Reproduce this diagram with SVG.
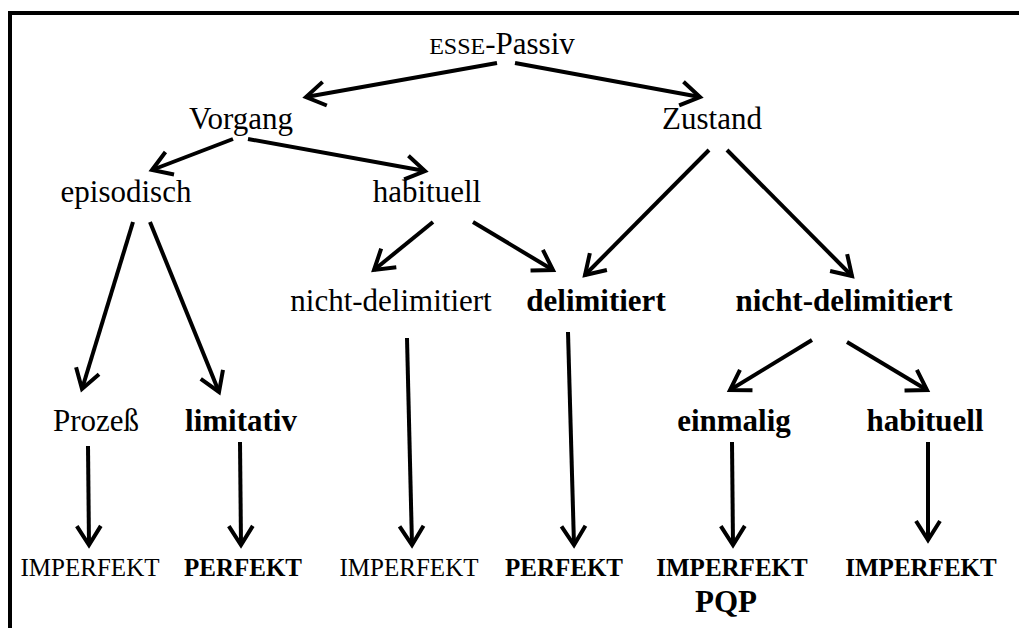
<svg xmlns="http://www.w3.org/2000/svg" width="1019" height="628" viewBox="0 0 1019 628">
<style>
text{font-family:"Liberation Serif","Times New Roman",serif;fill:#000;text-anchor:middle}
.n{font-size:31px}
.b{font-size:31px;font-weight:bold}
.s{font-size:25px}
.sb{font-size:25px;font-weight:bold}
.sc{font-size:24px}
.e{stroke:#000;stroke-width:4;fill:none;marker-end:url(#ah)}
</style>
<defs>
<marker id="ah" markerUnits="userSpaceOnUse" markerWidth="40" markerHeight="40" viewBox="-30 -20 40 40" refX="0" refY="0" orient="auto">
<path d="M-19,-12 L0,0 L-19,12" fill="none" stroke="#000" stroke-width="4" stroke-linejoin="miter"/>
</marker>
</defs>
<rect width="1019" height="628" fill="#fff"/>
<path d="M10,628 V13 H1019" fill="none" stroke="#000" stroke-width="4"/>
<g id="connectors">
<line class="e" x1="497" y1="63" x2="306" y2="97"/>
<line class="e" x1="515" y1="63" x2="700" y2="97"/>
<line class="e" x1="233" y1="139" x2="152" y2="170"/>
<line class="e" x1="248" y1="139" x2="425" y2="171"/>
<line class="e" x1="709" y1="150" x2="585" y2="275"/>
<line class="e" x1="727" y1="150" x2="852" y2="276"/>
<line class="e" x1="433" y1="222" x2="374" y2="270"/>
<line class="e" x1="473" y1="222" x2="553" y2="270"/>
<line class="e" x1="133" y1="222" x2="82" y2="389"/>
<line class="e" x1="150" y1="222" x2="219" y2="392"/>
<line class="e" x1="88" y1="446" x2="89" y2="545"/>
<line class="e" x1="240" y1="442" x2="241" y2="545"/>
<line class="e" x1="407" y1="338" x2="412" y2="545"/>
<line class="e" x1="568" y1="332" x2="574" y2="545"/>
<line class="e" x1="812" y1="340" x2="730" y2="390"/>
<line class="e" x1="847" y1="342" x2="927" y2="390"/>
<line class="e" x1="732" y1="442" x2="733" y2="545"/>
<line class="e" x1="928" y1="442" x2="928" y2="540"/>
</g>
<g id="n-esse"><text class="n" x="502" y="54"><tspan class="sc">ESSE</tspan>-Passiv</text></g>
<g id="n-vorgang"><text class="n" x="241" y="129">Vorgang</text></g>
<g id="n-zustand"><text class="n" x="712" y="129">Zustand</text></g>
<g id="n-episodisch"><text class="n" x="126" y="202">episodisch</text></g>
<g id="n-habituell1"><text class="n" x="427" y="202">habituell</text></g>
<g id="n-nichtdelim1"><text class="n" x="391" y="311">nicht-delimitiert</text></g>
<g id="n-delim"><text class="b" x="596" y="311">delimitiert</text></g>
<g id="n-nichtdelim2"><text class="b" x="844" y="311">nicht-delimitiert</text></g>
<g id="n-prozess"><text class="n" x="96" y="431">Prozeß</text></g>
<g id="n-limitativ"><text class="b" x="241" y="431">limitativ</text></g>
<g id="n-einmalig"><text class="b" x="734" y="431">einmalig</text></g>
<g id="n-habituell2"><text class="b" x="925" y="431">habituell</text></g>
<g id="n-imp1"><text class="s" x="90" y="576">IMPERFEKT</text></g>
<g id="n-perf1"><text class="sb" x="243" y="576">PERFEKT</text></g>
<g id="n-imp2"><text class="s" x="409" y="576">IMPERFEKT</text></g>
<g id="n-perf2"><text class="sb" x="564" y="576">PERFEKT</text></g>
<g id="n-imp3"><text class="sb" x="732" y="576">IMPERFEKT</text><text class="b" x="726" y="612">PQP</text></g>
<g id="n-imp4"><text class="sb" x="921" y="576">IMPERFEKT</text></g>
</svg>
